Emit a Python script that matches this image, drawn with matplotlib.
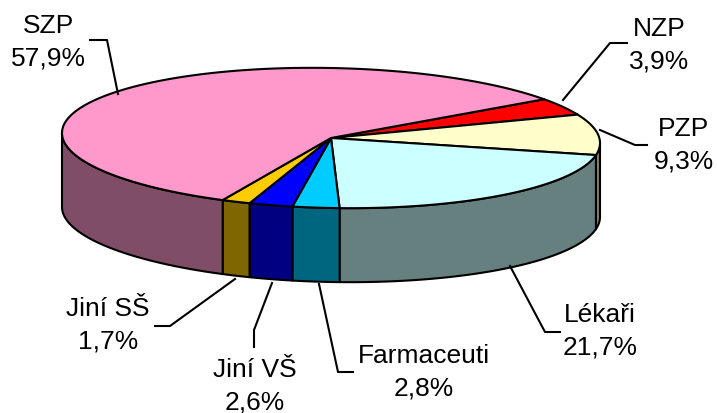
import numpy as np
import matplotlib.pyplot as plt
from matplotlib.patches import Polygon

# Data (podíly v %)
kategorie = ['NZP', 'PZP', 'Lékaři', 'Farmaceuti', 'Jiní VŠ', 'Jiní SŠ', 'SZP']
podily = [3.9, 9.3, 21.7, 2.8, 2.6, 1.7, 57.9]

# Barvy - horní plocha a boční stěna
barvy_horni = ['#FF0000', '#FFFFCC', '#CCFFFF', '#00CCFF', '#0000FF', '#FFCC00', '#FF99CC']
barvy_bok = ['#800000', '#808066', '#668080', '#006680', '#000080', '#806600', '#804D66']

# Pozice popisků a vodicích čar (v pixelech)
pozice_popisku = [(659, 45), (684, 145), (600, 331), (424, 372), (255, 386), (108, 325), (48, 42)]
vodici_cary = [
    [(627, 44), (610, 44), (563, 101)],
    [(647, 146), (635, 146), (600, 131)],
    [(560, 333), (545, 333), (510, 267)],
    [(353, 373), (338, 373), (319, 285)],
    [(254, 348), (254, 331), (272, 284)],
    [(155, 327), (170, 327), (235, 280)],
    [(90, 41), (107, 41), (118, 95)],
]

# Geometrie koláče
cx, cy = 331, 139
a, b = 269, 70
skew = 5
hloubka = 74
start = 37.6

def bod(t, dy=0):
    t = np.radians(t)
    return np.column_stack([cx + a * np.cos(t), cy - b * np.sin(t) + skew * np.cos(t) + dy])

hrany = start - np.concatenate([[0], np.cumsum(podily)]) / sum(podily) * 360

fig = plt.figure(figsize=(7.17, 4.14), dpi=100)
ax = fig.add_axes([0, 0, 1, 1])
ax.set_xlim(0, 717)
ax.set_ylim(414, 0)
ax.axis('off')

# Boční stěny (jen přední část)
for i in range(len(podily)):
    t1, t2 = hrany[i], hrany[i + 1]
    hi = min(t1, 0)
    lo = max(t2, -180)
    if lo < hi:
        tt = np.linspace(hi, lo, 80)
        horni = bod(tt)
        dolni = bod(tt[::-1], hloubka)
        ax.add_patch(Polygon(np.vstack([horni, dolni]), closed=True,
                             facecolor=barvy_bok[i], edgecolor='black',
                             linewidth=1.5, joinstyle='round'))

# Horní plochy
for i in range(len(podily)):
    tt = np.linspace(hrany[i], hrany[i + 1], 200)
    pts = np.vstack([[cx, cy], bod(tt)])
    ax.add_patch(Polygon(pts, closed=True, facecolor=barvy_horni[i],
                         edgecolor='black', linewidth=1.5, joinstyle='round'))

# Popisky
for i in range(len(podily)):
    txt = kategorie[i] + '\n' + f'{podily[i]:.1f}%'.replace('.', ',')
    x, y = pozice_popisku[i]
    ax.text(x, y, txt, ha='center', va='center', multialignment='center',
            fontsize=19, family=['Liberation Sans', 'DejaVu Sans'], linespacing=1.45)
    cara = np.array(vodici_cary[i])
    ax.plot(cara[:, 0], cara[:, 1], color='black', linewidth=1.5)

plt.savefig('out.png', dpi=100)
